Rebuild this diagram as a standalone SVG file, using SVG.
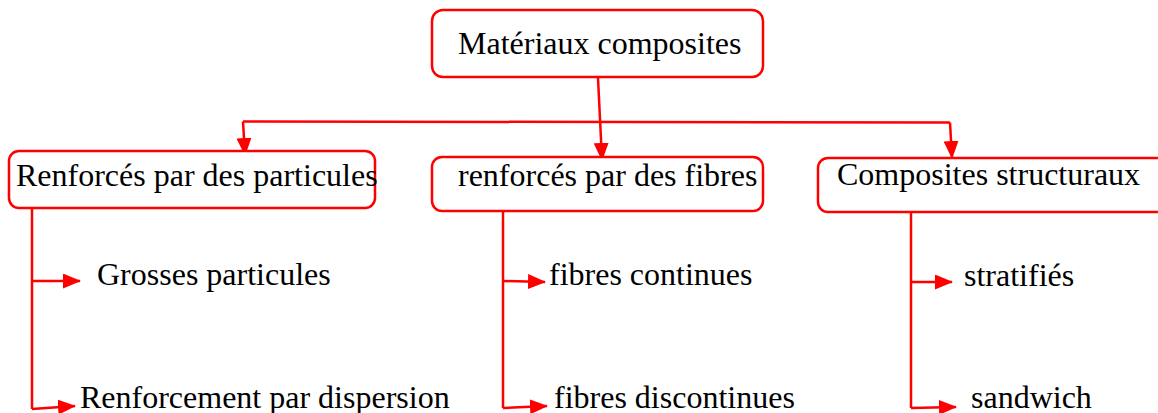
<svg xmlns="http://www.w3.org/2000/svg" width="1158" height="413" viewBox="0 0 1158 413">
  <defs>
    <marker id="arrow" viewBox="0 0 18 15" refX="17" refY="7.5" markerWidth="18" markerHeight="15" markerUnits="userSpaceOnUse" orient="auto">
      <path d="M0,0 L18,7.5 L0,15 Z" fill="#ff0000"/>
    </marker>
  </defs>
  <style>
    .box { fill: #ffffff; stroke: #ff0000; stroke-width: 2.5; }
    .lbl { font-family: "Liberation Serif", "Times New Roman", serif; font-size: 32px; fill: #000000; }
    .wire { fill: none; stroke: #ff0000; stroke-width: 2.5; }
    .arr { fill: none; stroke: #ff0000; stroke-width: 2.5; marker-end: url(#arrow); }
  </style>
  <rect width="1158" height="413" fill="#ffffff"/>

  <!-- connectors -->
  <g id="connectors">
    <!-- root to the three categories -->
    <path class="wire" d="M243,121.5 L950,122.5"/>
    <path class="arr" d="M598,78 L602,160"/>
    <path class="arr" d="M243,121.5 L245,155"/>
    <path class="arr" d="M950,122.5 L952,158"/>
    <!-- particles branch -->
    <path class="wire" d="M32,208 L32,409"/>
    <path class="arr" d="M32,281 L80,281"/>
    <path class="arr" d="M32,409 L75,406"/>
    <!-- fibres branch -->
    <path class="wire" d="M503,211 L503,408"/>
    <path class="arr" d="M503,281 L545,282"/>
    <path class="arr" d="M503,408 L547,406"/>
    <!-- structural branch -->
    <path class="wire" d="M911,212 L911,408"/>
    <path class="arr" d="M911,282 L952,282"/>
    <path class="arr" d="M911,408 L956,407"/>
  </g>

  <g id="root">
    <rect class="box" x="432" y="10" width="331" height="67" rx="11"/>
    <text class="lbl" x="458" y="54">Matériaux composites</text>
  </g>

  <g id="particules">
    <rect class="box" x="9" y="151" width="366" height="57" rx="10"/>
    <text class="lbl" x="16" y="186">Renforcés par des particules</text>
  </g>

  <g id="fibres">
    <rect class="box" x="432" y="157" width="331" height="54" rx="10"/>
    <text class="lbl" x="458" y="186">renforcés par des fibres</text>
  </g>

  <g id="structuraux">
    <rect class="box" x="818" y="158" width="350" height="54" rx="10"/>
    <text class="lbl" x="837" y="185">Composites structuraux</text>
  </g>

  <g id="grosses-particules">
    <text class="lbl" x="97" y="285">Grosses particules</text>
  </g>
  <g id="dispersion">
    <text class="lbl" x="80" y="408">Renforcement par dispersion</text>
  </g>
  <g id="fibres-continues">
    <text class="lbl" x="549" y="285">fibres continues</text>
  </g>
  <g id="fibres-discontinues">
    <text class="lbl" x="554" y="408">fibres discontinues</text>
  </g>
  <g id="stratifies">
    <text class="lbl" x="964" y="286">stratifiés</text>
  </g>
  <g id="sandwich">
    <text class="lbl" x="971" y="408">sandwich</text>
  </g>
</svg>
